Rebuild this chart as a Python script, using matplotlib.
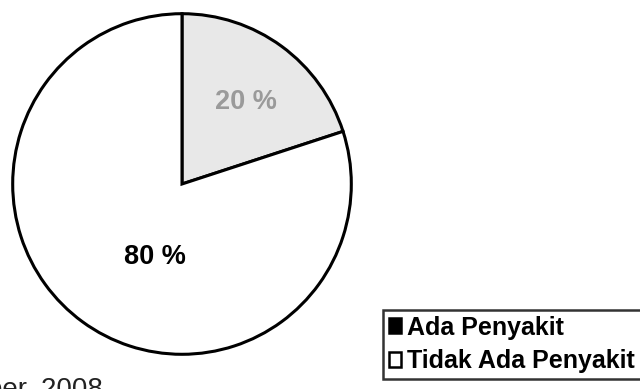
import matplotlib.pyplot as plt
from matplotlib.patches import Patch

labels = ["Ada Penyakit", "Tidak Ada Penyakit"]
values = [20, 80]
pct_text = ["20 %", "80 %"]
wedge_colors = ["#e8e8e8", "white"]
legend_colors = ["black", "white"]
source_text = "Sumber, 2008"

fig = plt.figure(figsize=(6.4, 3.89), dpi=100)
fig.patch.set_facecolor("white")

# pie area in pixel terms: centre ~ (182, 185), radius ~171
ax = fig.add_axes([11 / 640, 33 / 389, 342 / 640, 344 / 389])
wedges, _ = ax.pie(values, colors=wedge_colors, startangle=90, counterclock=False,
                   radius=1, wedgeprops=dict(edgecolor="black", linewidth=2.2))
ax.set_xlim(-1.01, 1.01)
ax.set_ylim(-1.01, 1.01)
ax.set_aspect("auto")
ax.axis("off")

# percentage labels
ax.text(0.38, 0.48, pct_text[0], ha="center", va="center", fontsize=19.5,
        fontweight="bold", color="#9a9a9a", family="Liberation Sans")
ax.text(-0.16, -0.43, pct_text[1], ha="center", va="center", fontsize=19.5,
        fontweight="bold", color="black", family="Liberation Sans")

# legend (runs off the right edge like the scan)
handles = [Patch(facecolor=c, edgecolor="black", linewidth=1.8) for c in legend_colors]
leg = fig.legend(handles, labels, loc="upper left",
                 bbox_to_anchor=(383 / 640, 79 / 389),
                 frameon=True, fancybox=False, edgecolor="black",
                 prop=dict(family="Liberation Sans", weight="bold", size=18),
                 handlelength=0.5, handleheight=0.55, handletextpad=0.25,
                 labelspacing=0.38, borderpad=0.22, borderaxespad=0)
leg.get_frame().set_linewidth(1.8)

# source note, cut at the left and bottom edges like the scan
fig.text(103 / 640, -8 / 389, source_text, ha="right", va="baseline", fontsize=20,
         family="Liberation Sans", color="#222222")

fig.savefig("out.png", dpi=100)
